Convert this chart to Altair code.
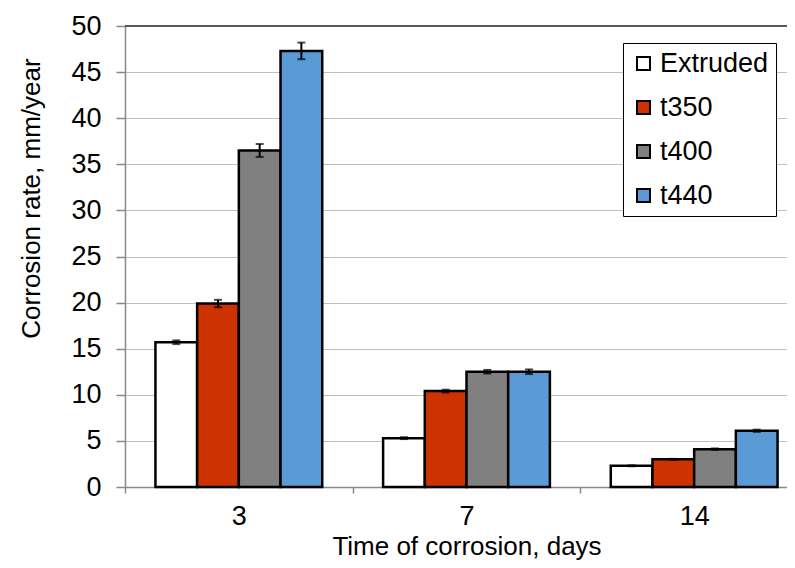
import altair as alt
import pandas as pd

days = ["3", "7", "14"]
series = ["Extruded", "t350", "t400", "t440"]
colors = ["#FFFFFF", "#CC3300", "#808080", "#5B9BD5"]
rate_3 = [15.7, 19.9, 36.5, 47.3]
rate_7 = [5.3, 10.4, 12.5, 12.5]
rate_14 = [2.3, 3.0, 4.1, 6.1]
err_3 = [0.2, 0.4, 0.7, 0.9]
err_7 = [0.1, 0.15, 0.2, 0.25]
err_14 = [0.05, 0.05, 0.08, 0.12]
y_ticks = list(range(0, 51, 5))
y_max = 50

rows = []
for d, vals, errs in zip(days, [rate_3, rate_7, rate_14], [err_3, err_7, err_14]):
    for s, v, e in zip(series, vals, errs):
        rows.append({"day": d, "series": s, "rate": v, "lo": v - e, "hi": v + e})
df = pd.DataFrame(rows)

FONT = "Liberation Sans"
YTITLE = "Corrosion rate, mm/year"

x = alt.X(
    "day:N",
    sort=days,
    title="Time of corrosion, days",
    scale=alt.Scale(domain=days, range=[0, 683], paddingInner=0, paddingOuter=0),
    axis=alt.Axis(labelAngle=0, tickBand="extent", tickSize=6, labelPadding=10,
                  grid=False, titleY=46, titleBaseline="top"),
)
xoff = alt.XOffset(
    "series:N", sort=series,
    scale=alt.Scale(domain=series, paddingInner=0, paddingOuter=0.73),
)
yscale = alt.Scale(domain=[0, y_max])

base = alt.Chart(df)

bars = base.mark_bar(stroke="black", strokeWidth=2.5).encode(
    x=x,
    xOffset=xoff,
    y=alt.Y("rate:Q", scale=yscale, title=YTITLE,
            axis=alt.Axis(values=y_ticks, tickSize=9, labelPadding=15, grid=True,
                          titleX=-81, titleY=172)),
    color=alt.Color(
        "series:N", sort=series,
        scale=alt.Scale(domain=series, range=colors),
        legend=alt.Legend(
            title=None, orient="none", legendX=498, legendY=17,
            strokeColor="black", fillColor="white", padding=7,
            symbolType="square", symbolSize=169, symbolStrokeColor="black",
            symbolStrokeWidth=2, labelFont=FONT, labelFontSize=27,
            labelColor="black", rowPadding=16, labelOffset=3,
        ),
    ),
)

rules = base.mark_rule(color="black", strokeWidth=2).encode(
    x=x, xOffset=xoff, y=alt.Y("lo:Q", scale=yscale, title=YTITLE), y2="hi:Q"
)
cap_lo = base.mark_tick(color="black", size=8, thickness=2).encode(
    x=x, xOffset=xoff, y=alt.Y("lo:Q", scale=yscale, title=YTITLE)
)
cap_hi = base.mark_tick(color="black", size=8, thickness=2).encode(
    x=x, xOffset=xoff, y=alt.Y("hi:Q", scale=yscale, title=YTITLE)
)
top_line = alt.Chart(df).mark_rule(color="#5a5a5a", strokeWidth=1.5).encode(
    y=alt.datum(y_max)
)

chart = (
    alt.layer(top_line, bars, rules, cap_lo, cap_hi)
    .properties(
        width=662, height=461,
        autosize=alt.AutoSizeParams(type="none"),
        padding={"left": 117, "top": 18, "right": 0, "bottom": 73},
        background="white",
    )
    .configure_axis(
        labelFont=FONT, titleFont=FONT, labelColor="black", titleColor="black",
        labelFontSize=27, titleFontSize=26, titleFontWeight="normal",
        domainColor="#898989", tickColor="#898989", gridColor="#C0C0C0",
        domainWidth=1.5, tickWidth=1.5,
    )
    .configure_view(strokeWidth=0)
)

chart.save("out.html", embed_options={"renderer": "svg", "actions": False})
